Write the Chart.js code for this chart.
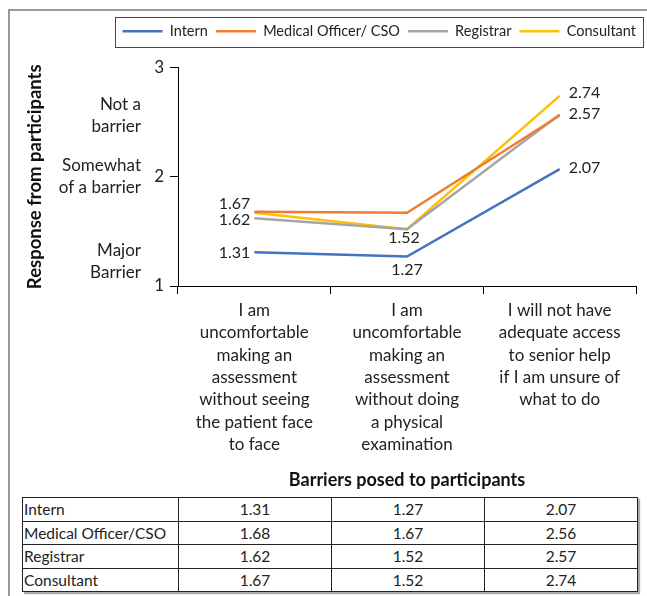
<!DOCTYPE html>
<html>
<head>
<meta charset="utf-8">
<script src="https://cdn.jsdelivr.net/npm/chart.js@4.4.1/dist/chart.umd.min.js"></script>
<style>
  body { margin: 0; background: #fff; font-family: Lato, sans-serif; }
  #frame { position: absolute; left: 8px; top: 9px; width: 645px; height: 600px; border-left: 2px solid #999; border-top: 2px solid #999; }
  #wrap { position: absolute; left: 0; top: 0; width: 647px; height: 496px; }
  table { position: absolute; left: 22px; top: 497px; border-collapse: collapse; table-layout: fixed; font-size: 15.5px; color: #222; box-shadow: 2px 2px 1px #aaa; }
  td { border: 1px solid #222; height: 22.6px; padding: 0 2px; text-align: center; line-height: 22px; white-space: nowrap; overflow: hidden; }
  td:first-child { text-align: left; padding-left: 1px; }
</style>
</head>
<body>
<div id="frame"></div>
<div id="wrap"><canvas id="chart" width="647" height="496"></canvas></div>
<table id="data">
  <colgroup><col style="width:156px"><col style="width:153px"><col style="width:153px"><col style="width:153px"></colgroup>
  <tbody></tbody>
</table>
<script>
const categories = [
  ['I am', 'uncomfortable', 'making an', 'assessment', 'without seeing', 'the patient face', 'to face'],
  ['I am', 'uncomfortable', 'making an', 'assessment', 'without doing', 'a physical', 'examination'],
  ['I will not have', 'adequate access', 'to senior help', 'if I am unsure of', 'what to do']
];
const seriesNames = ['Intern', 'Medical Officer/ CSO', 'Registrar', 'Consultant'];
const tableNames = ['Intern', 'Medical Officer/CSO', 'Registrar', 'Consultant'];
const intern = [1.31, 1.27, 2.07];
const medicalOfficer = [1.68, 1.67, 2.56];
const registrar = [1.62, 1.52, 2.57];
const consultant = [1.67, 1.52, 2.74];
const yTicks = [1, 2, 3];
const responseLabels = [['Not a', 'barrier'], ['Somewhat', 'of a barrier'], ['Major', 'Barrier']];
const responseAt = [2.56, 2.0, 1.22];

const colors = ['#4472C4', '#ED7D31', '#A5A5A5', '#FFC000'];
const allSeries = [intern, medicalOfficer, registrar, consultant];
const textColor = '#222';
const font = 'Lato, sans-serif';

// which point of each series gets a value label, and where it sits [side, dx, dy]
const labelSpots = [
  [['left', -4, 1], ['below', 0, 13], ['right', 9, -1]],
  [null, null, null],
  [['left', -4, 2], ['below', -3, 9], ['right', 9, -1]],
  [['left', -4, -9], null, ['right', 9, -3]]
];

// table under the chart
const tbody = document.querySelector('#data tbody');
tableNames.forEach((name, i) => {
  const tr = document.createElement('tr');
  const th = document.createElement('td');
  th.textContent = name;
  tr.appendChild(th);
  allSeries[i].forEach(v => {
    const td = document.createElement('td');
    td.textContent = v.toFixed(2);
    tr.appendChild(td);
  });
  tbody.appendChild(tr);
});

const pointLabels = {
  id: 'pointLabels',
  afterDatasetsDraw(chart) {
    const ctx = chart.ctx;
    ctx.save();
    ctx.font = '16px ' + font;
    ctx.fillStyle = textColor;
    ctx.textBaseline = 'middle';
    chart.data.datasets.forEach((ds, di) => {
      const meta = chart.getDatasetMeta(di);
      meta.data.forEach((pt, i) => {
        const spot = labelSpots[di][i];
        if (!spot) return;
        const txt = ds.data[i].toFixed(2);
        ctx.textAlign = spot[0] === 'left' ? 'right' : spot[0] === 'right' ? 'left' : 'center';
        ctx.fillText(txt, pt.x + spot[1], pt.y + spot[2]);
      });
    });
    ctx.restore();
  }
};

const extras = {
  id: 'extras',
  beforeLayout(chart) {
    // leave room under the legend, like the original
    const lg = chart.legend;
    if (lg && !lg._padded) {
      const fit = lg.fit.bind(lg);
      lg.fit = function () { fit(); this.height += 19; };
      lg._padded = true;
    }
  },
  afterLayout(chart) {
    chart.legend.right += 8;
  },
  afterDraw(chart) {
    const ctx = chart.ctx;
    const y = chart.scales.y;
    ctx.save();
    ctx.font = '17px ' + font;
    ctx.fillStyle = textColor;
    ctx.textAlign = 'right';
    ctx.textBaseline = 'middle';
    responseLabels.forEach((lines, i) => {
      const cy = y.getPixelForValue(responseAt[i]);
      const lh = 22;
      lines.forEach((ln, k) => {
        ctx.fillText(ln, 141, cy + (k - (lines.length - 1) / 2) * lh);
      });
    });
    // frame round the legend
    const boxes = chart.legend.legendHitBoxes;
    if (boxes.length) {
      const l = boxes[0].left - 7;
      const last = boxes[boxes.length - 1];
      const r = last.left + last.width + 7;
      const t = boxes[0].top - 7;
      const b = boxes[0].top + boxes[0].height + 8;
      ctx.strokeStyle = '#444';
      ctx.lineWidth = 1;
      ctx.strokeRect(Math.round(l) + 0.5, Math.round(t) + 0.5, Math.round(r - l), Math.round(b - t));
    }
    ctx.restore();
  }
};

new Chart(document.getElementById('chart'), {
  type: 'line',
  data: {
    labels: categories,
    datasets: seriesNames.map((name, i) => ({
      label: name,
      data: allSeries[i],
      borderColor: colors[i],
      backgroundColor: colors[i],
      borderWidth: 2.5,
      pointRadius: 0,
      tension: 0,
      fill: false
    }))
  },
  options: {
    responsive: false,
    animation: false,
    layout: { padding: { top: 16, right: 11, left: 0, bottom: 0 } },
    plugins: {
      tooltip: { enabled: false },
      legend: {
        position: 'top',
        align: 'end',
        labels: {
          usePointStyle: true,
          pointStyle: 'line',
          pointStyleWidth: 40,
          padding: 8,
          color: textColor,
          font: { family: font, size: 14.5 }
        }
      }
    },
    scales: {
      x: {
        offset: true,
        border: { color: '#000', width: 1 },
        grid: { drawOnChartArea: false, tickLength: 8, color: '#000', offset: true },
        ticks: { color: textColor, padding: 5, maxRotation: 0, font: { family: font, size: 17, lineHeight: 1.32 } },
        title: { display: true, text: 'Barriers posed to participants', color: '#111', padding: { top: 4, bottom: 5 }, font: { family: font, size: 18, weight: 'bold' } },
        afterFit(scale) { scale.height = 210; }
      },
      y: {
        min: 1,
        max: 3,
        border: { color: '#000', width: 1 },
        grid: { drawOnChartArea: false, tickLength: 8, color: '#000' },
        afterBuildTicks(scale) { scale.ticks = yTicks.map(v => ({ value: v })); },
        ticks: { color: textColor, padding: 6, font: { family: font, size: 17 } },
        title: { display: true, text: 'Response from participants', color: '#111', padding: { top: 24, bottom: 0 }, font: { family: font, size: 18.5, weight: 'bold' } },
        afterFit(scale) { scale.width = 178; }
      }
    }
  },
  plugins: [pointLabels, extras]
});
</script>
</body>
</html>
